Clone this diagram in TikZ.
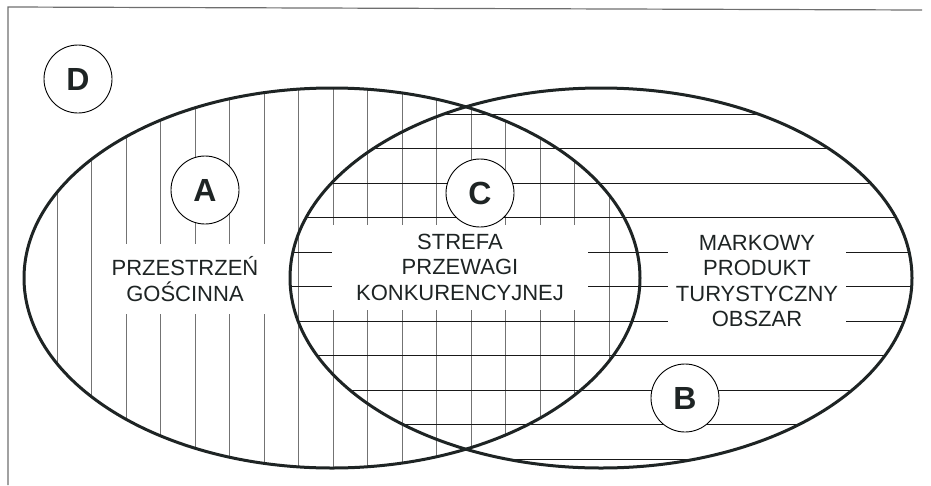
\documentclass[tikz,border=0pt]{standalone}
\usepackage{fontspec}
\setmainfont{Liberation Sans}
\definecolor{inkdark}{HTML}{1E2424}
\definecolor{framegray}{HTML}{6E6E6E}
\begin{document}
\begin{tikzpicture}[x=1pt,y=-1pt,
  outline/.style={draw=inkdark, line width=3pt},
  vhatch/.style={draw=black!55, line width=0.9pt},
  hhatch/.style={draw=black!90, line width=1pt},
  framerule/.style={draw=framegray, line width=1.2pt},
  letter/.style={circle, draw=black, line width=0.9pt, fill=white,
    minimum size=68pt, inner sep=0pt,
    font=\fontsize{32}{32}\selectfont\bfseries, text=inkdark},
  labelbox/.style={fill=white, inner sep=0pt, align=center,
    font=\fontsize{22}{25.5}\selectfont, text=inkdark}]
\useasboundingbox (0,0) rectangle (931,485);

% frame (top and left rules)
\draw[framerule] (8,485) -- (8,7) -- (922,10);

% vertical hatching inside set A
\begin{scope}
  \clip (332,278) ellipse [x radius=308, y radius=190];
  \foreach \i in {0,...,16}
    \draw[vhatch] ({57+34.5*\i},80) -- ({57+34.5*\i},480);
\end{scope}

% horizontal hatching inside set B
\begin{scope}
  \clip (601,278) ellipse [x radius=311, y radius=190];
  \foreach \i in {0,...,10}
    \draw[hhatch] (280,{114+34.5*\i}) -- (930,{114+34.5*\i});
\end{scope}

% text labels on white ground
\node[labelbox, minimum width=170pt, minimum height=70pt] (gosc) at (185,279)
  {PRZESTRZEŃ\\GOŚCINNA};
\node[labelbox, minimum width=256pt, minimum height=85pt] (strefa) at (460,267)
  {STREFA\\PRZEWAGI\\KONKURENCYJNEJ};
\node[labelbox, minimum width=178pt, minimum height=107pt] (produkt) at (757,281)
  {MARKOWY\\PRODUKT\\TURYSTYCZNY\\OBSZAR};

% set letters
\node[letter] (setD) at (78,79) {D};
\node[letter] (setA) at (205,190) {A};
\node[letter] (setC) at (480,193) {C};
\node[letter] (setB) at (685,398) {B};

% set outlines
\draw[outline] (332,278) ellipse [x radius=308, y radius=190];
\draw[outline] (601,278) ellipse [x radius=311, y radius=190];
\end{tikzpicture}
\end{document}
